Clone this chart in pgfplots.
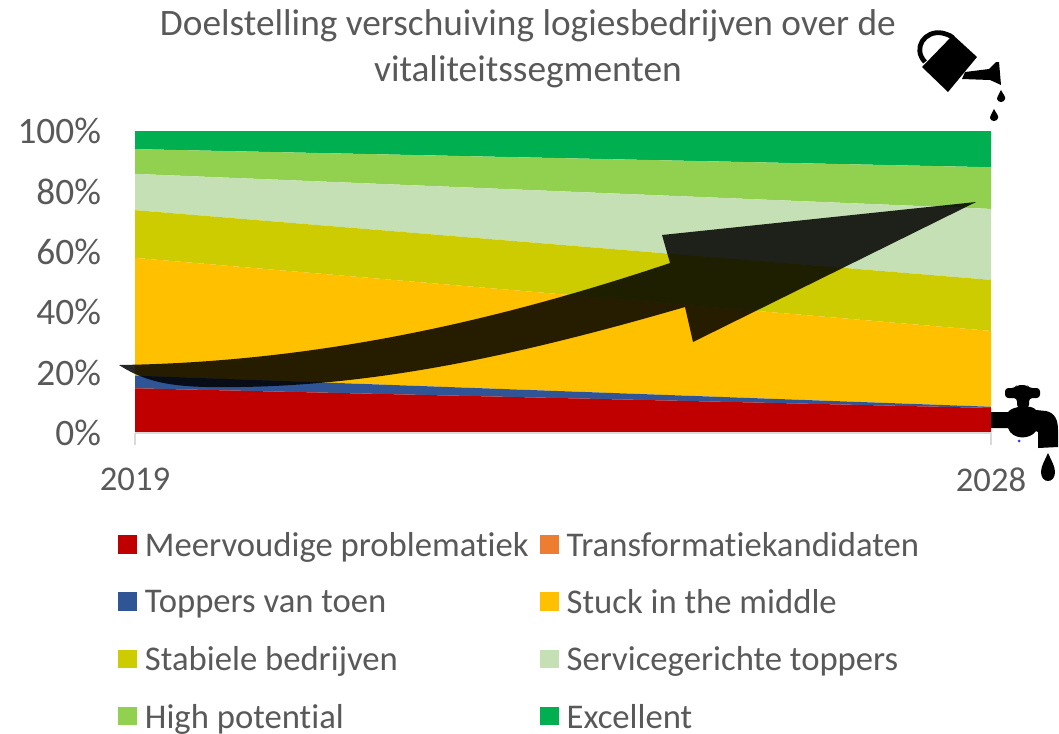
\documentclass[border=0pt]{standalone}
\usepackage{fontspec}
\setmainfont{Carlito}[Ligatures=NoCommon]
\usepackage{pgfplots}
\pgfplotsset{compat=1.18}
\definecolor{txt}{HTML}{595959}
\definecolor{gridc}{HTML}{D9D9D9}
\definecolor{cA}{HTML}{C00000}
\definecolor{cB}{HTML}{ED7D31}
\definecolor{cC}{HTML}{2F5597}
\definecolor{cD}{HTML}{FFC000}
\definecolor{cE}{HTML}{CCCC00}
\definecolor{cF}{HTML}{C5E0B4}
\definecolor{cG}{HTML}{92D050}
\definecolor{cH}{HTML}{00B050}
\begin{document}
\begin{tikzpicture}
\begin{scope}[x=0.75pt,y=-0.75pt]
\path[use as bounding box] (0,0) rectangle (1059,733);
\coordinate (O) at (135,433);
\end{scope}
\begin{axis}[
  at={(O)}, anchor=south west,
  scale only axis, width=642pt, height=226.5pt,
  xmin=0, xmax=1, ymin=0, ymax=100,
  stack plots=y,
  axis y line*=left, axis x line*=bottom,
  axis line style={gridc, line width=1pt},
  y axis line style={draw=none},
  xtick={0,1}, xticklabels={2019,2028},
  ytick={0,20,40,60,80,100},
  yticklabel={\pgfmathprintnumber{\tick}\%},
  /pgf/number format/assume math mode=true,
  tick align=outside,
  major tick length=9pt,
  xtick style={gridc, line width=1pt},
  ytick style={draw=none},
  every tick label/.append style={text=txt},
  xticklabel style={yshift=-13.5pt, font=\fontsize{26}{30}\selectfont},
  yticklabel style={xshift=-13pt, font=\fontsize{28}{30}\selectfont},
  title={Doelstelling verschuiving logiesbedrijven over de\\vitaliteitssegmenten},
  title style={at={(axis description cs:0.459,1)}, anchor=south, yshift=23pt, align=center,
    text=txt, font=\fontsize{28}{34}\selectfont},
  legend columns=2,
  legend cell align=left,
  legend style={at={(-0.0245,-0.319)}, anchor=north west, draw=none, fill=none,
    font=\fontsize{26}{30}\selectfont, text=txt,
    nodes={text depth=0pt, inner sep=0pt},
    row sep=24.9pt,
    /tikz/every odd column/.append style={column sep=6pt},
    /tikz/every even column/.append style={column sep=8.5pt}},
  area style,
  legend image code/.code={\fill[#1] (0pt,-7pt) rectangle (14pt,7pt);},
]
\addplot[draw=none, fill=cA] coordinates {(0,14.8) (1,8.3)} \closedcycle;
\addlegendentry{Meervoudige problematiek}
\addplot[draw=none, fill=cB] coordinates {(0,0) (1,0)} \closedcycle;
\addlegendentry{Transformatiekandidaten}
\addplot[draw=none, fill=cC] coordinates {(0,4.2) (1,0.4)} \closedcycle;
\addlegendentry{Toppers van toen}
\addplot[draw=none, fill=cD] coordinates {(0,39) (1,25.1)} \closedcycle;
\addlegendentry{Stuck in the middle}
\addplot[draw=none, fill=cE] coordinates {(0,15.8) (1,16.9)} \closedcycle;
\addlegendentry{Stabiele bedrijven}
\addplot[draw=none, fill=cF] coordinates {(0,12) (1,23.5)} \closedcycle;
\addlegendentry{Servicegerichte toppers}
\addplot[draw=none, fill=cG] coordinates {(0,8.2) (1,13.8)} \closedcycle;
\addlegendentry{High potential}
\addplot[draw=none, fill=cH] coordinates {(0,6) (1,12)} \closedcycle;
\addlegendentry{Excellent}
\draw[gridc, line width=1pt, yshift=0.5pt] (axis cs:0,100) -- (axis cs:1,100);
\end{axis}
\begin{scope}[x=0.75pt,y=-0.75pt]
% arrow
\fill[black, opacity=0.85] (119,365)
  .. controls (320,362) and (500,320) .. (670,263)
  -- (662,235) -- (976,202) -- (693,342) -- (685,307)
  .. controls (520,355) and (380,385) .. (240,387)
  .. controls (180,388) and (150,385) .. cycle;
% watering can
\fill[black] (953,35) -- (977,57) -- (948,92) -- (922,67) -- cycle;
\draw[black, line width=3.6pt] (925,62) .. controls (912,48) and (925,30) .. (942,33) .. controls (946,34) and (950,35) .. (953,38);
\fill[black] (965,72) -- (989,69) -- (996,62) -- (999,62) -- (1001,85) -- (990,80) -- (962,79) -- cycle;
\fill[black] (1001,90) .. controls (1003,94) and (1006,97) .. (1005,99) .. controls (1004,103) and (998,103) .. (997,99) .. controls (997,97) and (999,94) .. cycle;
\fill[black] (994,109) .. controls (996,113) and (999,116) .. (998,118) .. controls (997,122) and (991,122) .. (990,118) .. controls (990,116) and (992,113) .. cycle;
% faucet
\fill[black, rounded corners=2.5pt] (1005,388) -- (1015,388) -- (1017,385) -- (1027,385) -- (1029,388) -- (1040,388) -- (1040,398) -- (1029,398) -- (1029,408) -- (1017,408) -- (1017,398) -- (1005,398) -- cycle;
\fill[black] (991,412) -- (1008,412) .. controls (1012,406) and (1032,404) .. (1036,410) -- (1046,411) .. controls (1055,413) and (1058,420) .. (1058,430) -- (1058,447) -- (1038,448) -- (1038,432) -- (1036,431) .. controls (1030,440) and (1012,440) .. (1008,428) -- (991,428) -- cycle;
\fill[black] (1048,453) .. controls (1051,460) and (1055,466) .. (1055,472) .. controls (1055,484) and (1041,484) .. (1041,472) .. controls (1041,466) and (1045,460) .. cycle;
\fill[blue!80] (1019,441) circle (1.5);
\end{scope}
\end{tikzpicture}
\end{document}
